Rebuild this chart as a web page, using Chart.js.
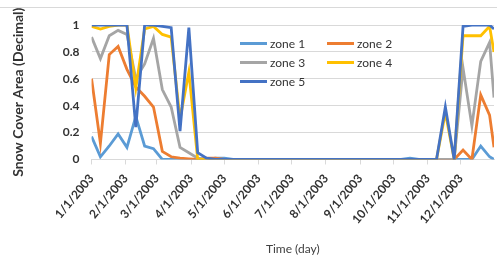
<!DOCTYPE html>
<html>
<head>
<meta charset="utf-8">
<script src="https://cdn.jsdelivr.net/npm/chart.js@4.4.1/dist/chart.umd.min.js"></script>
<style>
  html, body { margin: 0; padding: 0; background: #fff; }
  #caja { position: relative; width: 497px; height: 260px; }
  #borde { position: absolute; left: 0; right: 0; top: 7px; border-top: 1px solid #d9d9d9; }
  .item { position: absolute; display: flex; align-items: center; font: 12px Lato, sans-serif; color: #333; white-space: nowrap; }
  .item i { display: inline-block; width: 27px; height: 3px; margin-right: 3px; }
</style>
</head>
<body>
<div id="caja">
  <div id="borde"></div>
  <canvas id="grafico1"></canvas>
  <div id="leyenda"></div>
</div>
<script>
// dia del año de cada compuesto de 8 dias
const dias = [0, 8, 16, 24, 32, 40, 48, 56, 64, 72, 80, 88, 96, 104, 112, 120, 128, 136, 144, 152,
  160, 168, 176, 184, 192, 200, 208, 216, 224, 232, 240, 248, 256, 264, 272, 280, 288, 296, 304, 312,
  320, 328, 336, 344, 352, 360, 364];

const zona1 = [0.17, 0.02, 0.10, 0.19, 0.09, 0.32, 0.10, 0.08, 0, 0, 0, 0, 0, 0, 0.01, 0.01, 0, 0, 0, 0,
  0, 0, 0, 0, 0, 0, 0, 0, 0, 0, 0, 0, 0, 0, 0, 0, 0.01, 0, 0, 0,
  0, 0, 0, 0, 0.10, 0.02, 0];
const zona2 = [0.60, 0.12, 0.78, 0.84, 0.67, 0.54, 0.47, 0.39, 0.06, 0.02, 0.01, 0.005, 0, 0.01, 0.01, 0, 0, 0, 0, 0,
  0, 0, 0, 0, 0, 0, 0, 0, 0, 0, 0, 0, 0, 0, 0, 0, 0, 0, 0, 0,
  0, 0, 0.07, 0, 0.48, 0.33, 0.09];
const zona3 = [0.91, 0.75, 0.92, 0.96, 0.93, 0.60, 0.71, 0.90, 0.52, 0.39, 0.09, 0.05, 0.01, 0, 0, 0, 0, 0, 0, 0,
  0, 0, 0, 0, 0, 0, 0, 0, 0, 0, 0, 0, 0, 0, 0, 0, 0, 0, 0, 0,
  0, 0, 0.68, 0.25, 0.73, 0.87, 0.46];
const zona4 = [0.99, 0.97, 0.99, 1.0, 1.0, 0.53, 0.97, 0.99, 0.93, 0.91, 0.30, 0.65, 0, 0, 0, 0, 0, 0, 0, 0,
  0, 0, 0, 0, 0, 0, 0, 0, 0, 0, 0, 0, 0, 0, 0, 0, 0, 0, 0, 0,
  0.35, 0, 0.92, 0.92, 0.92, 0.99, 0.80];
const zona5 = [1.0, 1.0, 1.0, 1.0, 1.0, 0.24, 1.0, 1.0, 0.99, 0.98, 0.21, 0.98, 0.05, 0.01, 0, 0, 0, 0, 0, 0,
  0, 0, 0, 0, 0, 0, 0, 0, 0, 0, 0, 0, 0, 0, 0, 0, 0, 0, 0, 0,
  0.39, 0, 0.99, 1.0, 1.0, 1.0, 0.97];

// marcas del eje x: inicio de cada mes
const diasMes = [0, 31, 59, 90, 120, 151, 181, 212, 243, 273, 304, 334];
const etiquetasMes = ['1/1/2003', '2/1/2003', '3/1/2003', '4/1/2003', '5/1/2003', '6/1/2003',
  '7/1/2003', '8/1/2003', '9/1/2003', '10/1/2003', '11/1/2003', '12/1/2003'];

const nombres = ['zone 1', 'zone 2', 'zone 3', 'zone 4', 'zone 5'];
const colores = ['#5B9BD5', '#ED7D31', '#A5A5A5', '#FFC000', '#4472C4'];
const series = [zona1, zona2, zona3, zona4, zona5];

document.addEventListener("DOMContentLoaded", () => {
  const lienzo = document.querySelector("#grafico1");

  const datasets = series.map((valores, k) => ({
    label: nombres[k],
    data: valores.map((v, i) => ({ x: dias[i], y: v })),
    borderColor: colores[k],
    backgroundColor: colores[k],
    borderWidth: 2.8,
    pointRadius: 0,
    tension: 0,
    order: series.length - 1 - k
  }));

  new Chart(lienzo, {
    type: 'line',
    data: { datasets },
    options: {
      responsive: true,
      maintainAspectRatio: false,
      animation: false,
      layout: { padding: { top: 25, right: 3, bottom: 2, left: 10 } },
      plugins: { legend: { display: false }, tooltip: { enabled: false } },
      scales: {
        x: {
          type: 'linear',
          min: 0,
          max: 364,
          afterBuildTicks: eje => { eje.ticks = diasMes.map(v => ({ value: v })); },
          ticks: {
            autoSkip: false,
            minRotation: 50,
            maxRotation: 50,
            padding: 7,
            color: '#333',
            font: { family: 'Lato', size: 12, weight: 'bold' },
            callback: v => etiquetasMes[diasMes.indexOf(v)]
          },
          grid: { drawOnChartArea: false, tickLength: 5, color: '#d9d9d9' },
          border: { color: '#d9d9d9' },
          title: {
            display: true,
            text: 'Time (day)',
            color: '#404040',
            font: { family: 'Lato', size: 12 },
            padding: { top: 8, bottom: 2 }
          }
        },
        y: {
          min: 0,
          max: 1,
          ticks: {
            stepSize: 0.2,
            padding: 12,
            color: '#333',
            font: { family: 'Lato', size: 12, weight: 'bold' },
            callback: v => String(+v.toFixed(1))
          },
          grid: { drawTicks: false, color: '#d9d9d9' },
          border: { display: false },
          title: {
            display: true,
            text: 'Snow Cover Area (Decimal)',
            color: '#333',
            font: { family: 'Lato', size: 14, weight: 'bold' },
            padding: { top: 0, bottom: 24 }
          }
        }
      }
    }
  });

  // leyenda en dos columnas, dentro del area
  const leyenda = document.querySelector("#leyenda");
  const posiciones = [[240, 43], [327, 43], [240, 62], [327, 62], [240, 81]];
  nombres.forEach((n, k) => {
    const d = document.createElement('div');
    d.className = 'item';
    d.style.left = posiciones[k][0] + 'px';
    d.style.top = (posiciones[k][1] - 8) + 'px';
    d.style.height = '16px';
    d.innerHTML = `<i style="background:${colores[k]}"></i>${n}`;
    leyenda.appendChild(d);
  });
});
</script>
</body>
</html>
